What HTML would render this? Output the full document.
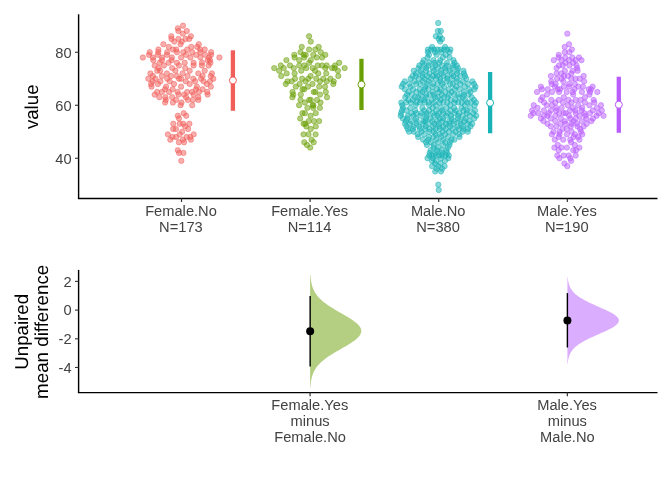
<!DOCTYPE html>
<html lang="en"><head><meta charset="utf-8"><title>Estimation plot</title>
<style>html,body{margin:0;padding:0;background:#fff}svg{display:block}text{font-family:"Liberation Sans", Arial, Helvetica, sans-serif}</style>
</head><body>
<svg width="672" height="480" viewBox="0 0 672 480">
<rect width="672" height="480" fill="#fff"/>
<g fill="#F15E5A" fill-opacity="0.5" stroke="#F15E5A" stroke-opacity="0.5" stroke-width="0.945">
<circle cx="183" cy="25.7" r="2.68"/>
<circle cx="177.8" cy="28.35" r="2.68"/>
<circle cx="178.4" cy="31" r="2.68"/>
<circle cx="186.75" cy="31" r="2.68"/>
<circle cx="182.8" cy="33.65" r="2.68"/>
<circle cx="171.3" cy="36.3" r="2.68"/>
<circle cx="190.9" cy="36.3" r="2.68"/>
<circle cx="171.5" cy="38.95" r="2.68"/>
<circle cx="178.4" cy="38.95" r="2.68"/>
<circle cx="185.5" cy="38.95" r="2.68"/>
<circle cx="189.25" cy="38.95" r="2.68"/>
<circle cx="174.25" cy="41.6" r="2.68"/>
<circle cx="181.75" cy="41.6" r="2.68"/>
<circle cx="163.4" cy="44.25" r="2.68"/>
<circle cx="180.5" cy="44.25" r="2.68"/>
<circle cx="198.8" cy="44.25" r="2.68"/>
<circle cx="168.8" cy="46.9" r="2.68"/>
<circle cx="191.3" cy="46.9" r="2.68"/>
<circle cx="197.2" cy="46.9" r="2.68"/>
<circle cx="158.4" cy="49.55" r="2.68"/>
<circle cx="173" cy="49.55" r="2.68"/>
<circle cx="176.3" cy="49.55" r="2.68"/>
<circle cx="187.2" cy="49.55" r="2.68"/>
<circle cx="200.1" cy="49.55" r="2.68"/>
<circle cx="204.7" cy="49.55" r="2.68"/>
<circle cx="183.7" cy="113.15" r="2.68"/>
<circle cx="177.8" cy="115.8" r="2.68"/>
<circle cx="186.2" cy="115.8" r="2.68"/>
<circle cx="179" cy="118.45" r="2.68"/>
<circle cx="173.3" cy="123.75" r="2.68"/>
<circle cx="179.7" cy="123.75" r="2.68"/>
<circle cx="183.2" cy="123.75" r="2.68"/>
<circle cx="189.4" cy="123.75" r="2.68"/>
<circle cx="185.1" cy="126.4" r="2.68"/>
<circle cx="173.1" cy="129.05" r="2.68"/>
<circle cx="175.9" cy="129.05" r="2.68"/>
<circle cx="188.1" cy="129.05" r="2.68"/>
<circle cx="182.2" cy="131.7" r="2.68"/>
<circle cx="167.9" cy="134.35" r="2.68"/>
<circle cx="179.7" cy="134.35" r="2.68"/>
<circle cx="193.75" cy="134.35" r="2.68"/>
<circle cx="172.5" cy="137" r="2.68"/>
<circle cx="176.1" cy="137" r="2.68"/>
<circle cx="186.6" cy="137" r="2.68"/>
<circle cx="190.3" cy="137" r="2.68"/>
<circle cx="170.3" cy="139.65" r="2.68"/>
<circle cx="182.8" cy="139.65" r="2.68"/>
<circle cx="190.9" cy="139.65" r="2.68"/>
<circle cx="178.9" cy="142.3" r="2.68"/>
<circle cx="184.1" cy="142.3" r="2.68"/>
<circle cx="177.8" cy="150.25" r="2.68"/>
<circle cx="179.1" cy="152.9" r="2.68"/>
<circle cx="183.4" cy="152.9" r="2.68"/>
<circle cx="181.3" cy="160.85" r="2.68"/>
<circle cx="149.7" cy="52.2" r="2.68"/>
<circle cx="158.3" cy="52.2" r="2.68"/>
<circle cx="167.2" cy="52.2" r="2.68"/>
<circle cx="176.9" cy="52.2" r="2.68"/>
<circle cx="183.3" cy="52.2" r="2.68"/>
<circle cx="192.2" cy="52.2" r="2.68"/>
<circle cx="200.4" cy="52.2" r="2.68"/>
<circle cx="211.1" cy="52.2" r="2.68"/>
<circle cx="149" cy="54.85" r="2.68"/>
<circle cx="157.9" cy="54.85" r="2.68"/>
<circle cx="166.9" cy="54.85" r="2.68"/>
<circle cx="186.1" cy="54.85" r="2.68"/>
<circle cx="196.1" cy="54.85" r="2.68"/>
<circle cx="205.1" cy="54.85" r="2.68"/>
<circle cx="211.1" cy="54.85" r="2.68"/>
<circle cx="142.9" cy="57.5" r="2.68"/>
<circle cx="152.9" cy="57.5" r="2.68"/>
<circle cx="162.2" cy="57.5" r="2.68"/>
<circle cx="171.9" cy="57.5" r="2.68"/>
<circle cx="181.1" cy="57.5" r="2.68"/>
<circle cx="190.4" cy="57.5" r="2.68"/>
<circle cx="200.4" cy="57.5" r="2.68"/>
<circle cx="209" cy="57.5" r="2.68"/>
<circle cx="219.4" cy="57.5" r="2.68"/>
<circle cx="153.3" cy="60.15" r="2.68"/>
<circle cx="161.9" cy="60.15" r="2.68"/>
<circle cx="171.5" cy="60.15" r="2.68"/>
<circle cx="207.6" cy="60.15" r="2.68"/>
<circle cx="209.9" cy="60.15" r="2.68"/>
<circle cx="159.7" cy="62.8" r="2.68"/>
<circle cx="168.6" cy="62.8" r="2.68"/>
<circle cx="176.9" cy="62.8" r="2.68"/>
<circle cx="184.7" cy="62.8" r="2.68"/>
<circle cx="193.6" cy="62.8" r="2.68"/>
<circle cx="201.9" cy="62.8" r="2.68"/>
<circle cx="210.4" cy="62.8" r="2.68"/>
<circle cx="154.7" cy="65.45" r="2.68"/>
<circle cx="164" cy="65.45" r="2.68"/>
<circle cx="179" cy="65.45" r="2.68"/>
<circle cx="193.6" cy="65.45" r="2.68"/>
<circle cx="201.9" cy="65.45" r="2.68"/>
<circle cx="208.6" cy="65.45" r="2.68"/>
<circle cx="158.5" cy="68.1" r="2.68"/>
<circle cx="172.2" cy="68.1" r="2.68"/>
<circle cx="185.2" cy="68.1" r="2.68"/>
<circle cx="157.2" cy="70.75" r="2.68"/>
<circle cx="160.1" cy="70.75" r="2.68"/>
<circle cx="175.4" cy="70.75" r="2.68"/>
<circle cx="189.7" cy="70.75" r="2.68"/>
<circle cx="204.7" cy="70.75" r="2.68"/>
<circle cx="150.4" cy="73.4" r="2.68"/>
<circle cx="166.9" cy="73.4" r="2.68"/>
<circle cx="182.6" cy="73.4" r="2.68"/>
<circle cx="198.3" cy="73.4" r="2.68"/>
<circle cx="211.9" cy="73.4" r="2.68"/>
<circle cx="152.9" cy="76.05" r="2.68"/>
<circle cx="161.9" cy="76.05" r="2.68"/>
<circle cx="171.1" cy="76.05" r="2.68"/>
<circle cx="176.9" cy="76.05" r="2.68"/>
<circle cx="187.6" cy="76.05" r="2.68"/>
<circle cx="202.6" cy="76.05" r="2.68"/>
<circle cx="210.8" cy="76.05" r="2.68"/>
<circle cx="148.3" cy="78.7" r="2.68"/>
<circle cx="155.4" cy="78.7" r="2.68"/>
<circle cx="167.2" cy="78.7" r="2.68"/>
<circle cx="179" cy="78.7" r="2.68"/>
<circle cx="181.1" cy="78.7" r="2.68"/>
<circle cx="193.3" cy="78.7" r="2.68"/>
<circle cx="201.1" cy="78.7" r="2.68"/>
<circle cx="213.3" cy="78.7" r="2.68"/>
<circle cx="152.6" cy="81.35" r="2.68"/>
<circle cx="160.4" cy="81.35" r="2.68"/>
<circle cx="169.7" cy="81.35" r="2.68"/>
<circle cx="185.8" cy="81.35" r="2.68"/>
<circle cx="195.1" cy="81.35" r="2.68"/>
<circle cx="203.6" cy="81.35" r="2.68"/>
<circle cx="210" cy="81.35" r="2.68"/>
<circle cx="151.1" cy="84" r="2.68"/>
<circle cx="157.9" cy="84" r="2.68"/>
<circle cx="174" cy="84" r="2.68"/>
<circle cx="189.7" cy="84" r="2.68"/>
<circle cx="206.9" cy="84" r="2.68"/>
<circle cx="151.5" cy="86.65" r="2.68"/>
<circle cx="166.1" cy="86.65" r="2.68"/>
<circle cx="181.1" cy="86.65" r="2.68"/>
<circle cx="196.9" cy="86.65" r="2.68"/>
<circle cx="210.8" cy="86.65" r="2.68"/>
<circle cx="165" cy="89.3" r="2.68"/>
<circle cx="172.6" cy="89.3" r="2.68"/>
<circle cx="196" cy="89.3" r="2.68"/>
<circle cx="202.6" cy="89.3" r="2.68"/>
<circle cx="157.2" cy="91.95" r="2.68"/>
<circle cx="161.9" cy="91.95" r="2.68"/>
<circle cx="169" cy="91.95" r="2.68"/>
<circle cx="177.6" cy="91.95" r="2.68"/>
<circle cx="187.2" cy="91.95" r="2.68"/>
<circle cx="192.2" cy="91.95" r="2.68"/>
<circle cx="199" cy="91.95" r="2.68"/>
<circle cx="207.2" cy="91.95" r="2.68"/>
<circle cx="154.7" cy="94.6" r="2.68"/>
<circle cx="178.5" cy="94.6" r="2.68"/>
<circle cx="184" cy="94.6" r="2.68"/>
<circle cx="193.6" cy="94.6" r="2.68"/>
<circle cx="207.6" cy="94.6" r="2.68"/>
<circle cx="159.4" cy="97.25" r="2.68"/>
<circle cx="165.4" cy="97.25" r="2.68"/>
<circle cx="172.2" cy="97.25" r="2.68"/>
<circle cx="186.1" cy="97.25" r="2.68"/>
<circle cx="198.3" cy="97.25" r="2.68"/>
<circle cx="165.8" cy="99.9" r="2.68"/>
<circle cx="176.1" cy="99.9" r="2.68"/>
<circle cx="187.9" cy="99.9" r="2.68"/>
<circle cx="192.9" cy="99.9" r="2.68"/>
<circle cx="198.3" cy="99.9" r="2.68"/>
<circle cx="165.1" cy="102.55" r="2.68"/>
<circle cx="172.9" cy="102.55" r="2.68"/>
<circle cx="181.5" cy="102.55" r="2.68"/>
<circle cx="180.6" cy="105.2" r="2.68"/>
<circle cx="192.2" cy="105.2" r="2.68"/>
</g>
<g fill="#6AA005" fill-opacity="0.5" stroke="#6AA005" stroke-opacity="0.5" stroke-width="0.945">
<circle cx="309.1" cy="36.3" r="2.68"/>
<circle cx="310.75" cy="41.6" r="2.68"/>
<circle cx="301.75" cy="46.9" r="2.68"/>
<circle cx="318.7" cy="46.9" r="2.68"/>
<circle cx="309.1" cy="49.55" r="2.68"/>
<circle cx="315.3" cy="49.55" r="2.68"/>
<circle cx="300.5" cy="52.2" r="2.68"/>
<circle cx="320.75" cy="52.2" r="2.68"/>
<circle cx="294.3" cy="54.85" r="2.68"/>
<circle cx="303.7" cy="54.85" r="2.68"/>
<circle cx="305.75" cy="54.85" r="2.68"/>
<circle cx="313.25" cy="54.85" r="2.68"/>
<circle cx="325.3" cy="54.85" r="2.68"/>
<circle cx="294.6" cy="57.5" r="2.68"/>
<circle cx="304.2" cy="57.5" r="2.68"/>
<circle cx="316.7" cy="57.5" r="2.68"/>
<circle cx="322.1" cy="57.5" r="2.68"/>
<circle cx="286.4" cy="60.15" r="2.68"/>
<circle cx="299.2" cy="60.15" r="2.68"/>
<circle cx="310.8" cy="60.15" r="2.68"/>
<circle cx="309.2" cy="62.8" r="2.68"/>
<circle cx="339.2" cy="62.8" r="2.68"/>
<circle cx="280.8" cy="65.45" r="2.68"/>
<circle cx="290" cy="65.45" r="2.68"/>
<circle cx="299.2" cy="65.45" r="2.68"/>
<circle cx="304.2" cy="65.45" r="2.68"/>
<circle cx="317.7" cy="65.45" r="2.68"/>
<circle cx="322.1" cy="65.45" r="2.68"/>
<circle cx="326.7" cy="65.45" r="2.68"/>
<circle cx="335" cy="65.45" r="2.68"/>
<circle cx="274.2" cy="68.1" r="2.68"/>
<circle cx="283.75" cy="68.1" r="2.68"/>
<circle cx="293.75" cy="68.1" r="2.68"/>
<circle cx="306.25" cy="68.1" r="2.68"/>
<circle cx="312.7" cy="68.1" r="2.68"/>
<circle cx="325.4" cy="68.1" r="2.68"/>
<circle cx="332.1" cy="68.1" r="2.68"/>
<circle cx="334.6" cy="68.1" r="2.68"/>
<circle cx="344.6" cy="68.1" r="2.68"/>
<circle cx="279.2" cy="70.75" r="2.68"/>
<circle cx="301.25" cy="70.75" r="2.68"/>
<circle cx="315" cy="70.75" r="2.68"/>
<circle cx="337.9" cy="70.75" r="2.68"/>
<circle cx="286.7" cy="73.4" r="2.68"/>
<circle cx="294.6" cy="73.4" r="2.68"/>
<circle cx="318.3" cy="73.4" r="2.68"/>
<circle cx="326.25" cy="73.4" r="2.68"/>
<circle cx="281.25" cy="76.05" r="2.68"/>
<circle cx="310.6" cy="76.05" r="2.68"/>
<circle cx="338.3" cy="76.05" r="2.68"/>
<circle cx="295" cy="78.7" r="2.68"/>
<circle cx="302.1" cy="78.7" r="2.68"/>
<circle cx="308.3" cy="78.7" r="2.68"/>
<circle cx="316.25" cy="78.7" r="2.68"/>
<circle cx="323.3" cy="78.7" r="2.68"/>
<circle cx="330.4" cy="78.7" r="2.68"/>
<circle cx="287.5" cy="81.35" r="2.68"/>
<circle cx="291.7" cy="81.35" r="2.68"/>
<circle cx="305.6" cy="81.35" r="2.68"/>
<circle cx="320" cy="81.35" r="2.68"/>
<circle cx="326.7" cy="81.35" r="2.68"/>
<circle cx="333.75" cy="81.35" r="2.68"/>
<circle cx="285.8" cy="84" r="2.68"/>
<circle cx="299.6" cy="84" r="2.68"/>
<circle cx="312.5" cy="84" r="2.68"/>
<circle cx="333.3" cy="84" r="2.68"/>
<circle cx="295.8" cy="86.65" r="2.68"/>
<circle cx="307.9" cy="86.65" r="2.68"/>
<circle cx="319.2" cy="86.65" r="2.68"/>
<circle cx="325" cy="86.65" r="2.68"/>
<circle cx="302.5" cy="89.3" r="2.68"/>
<circle cx="304.2" cy="89.3" r="2.68"/>
<circle cx="292.5" cy="91.95" r="2.68"/>
<circle cx="313.75" cy="91.95" r="2.68"/>
<circle cx="315.4" cy="91.95" r="2.68"/>
<circle cx="325.8" cy="91.95" r="2.68"/>
<circle cx="293.3" cy="94.6" r="2.68"/>
<circle cx="300.8" cy="94.6" r="2.68"/>
<circle cx="320" cy="94.6" r="2.68"/>
<circle cx="292.4" cy="97.25" r="2.68"/>
<circle cx="327" cy="97.25" r="2.68"/>
<circle cx="300.5" cy="99.9" r="2.68"/>
<circle cx="309.2" cy="99.9" r="2.68"/>
<circle cx="310.8" cy="99.9" r="2.68"/>
<circle cx="317" cy="99.9" r="2.68"/>
<circle cx="304.9" cy="102.55" r="2.68"/>
<circle cx="320.5" cy="102.55" r="2.68"/>
<circle cx="299.1" cy="105.2" r="2.68"/>
<circle cx="312.7" cy="105.2" r="2.68"/>
<circle cx="313.3" cy="105.2" r="2.68"/>
<circle cx="307.4" cy="107.85" r="2.68"/>
<circle cx="313.2" cy="107.85" r="2.68"/>
<circle cx="319.9" cy="107.85" r="2.68"/>
<circle cx="302.4" cy="113.15" r="2.68"/>
<circle cx="304.9" cy="113.15" r="2.68"/>
<circle cx="315.75" cy="113.15" r="2.68"/>
<circle cx="310.6" cy="115.8" r="2.68"/>
<circle cx="300.2" cy="118.45" r="2.68"/>
<circle cx="308.7" cy="121.1" r="2.68"/>
<circle cx="313.9" cy="121.1" r="2.68"/>
<circle cx="319.1" cy="121.1" r="2.68"/>
<circle cx="303.6" cy="123.75" r="2.68"/>
<circle cx="305.3" cy="123.75" r="2.68"/>
<circle cx="306.4" cy="126.4" r="2.68"/>
<circle cx="315.75" cy="126.4" r="2.68"/>
<circle cx="310.75" cy="129.05" r="2.68"/>
<circle cx="303.5" cy="134.35" r="2.68"/>
<circle cx="308.5" cy="134.35" r="2.68"/>
<circle cx="315.6" cy="134.35" r="2.68"/>
<circle cx="311.6" cy="139.65" r="2.68"/>
<circle cx="304.3" cy="142.3" r="2.68"/>
<circle cx="313.7" cy="142.3" r="2.68"/>
<circle cx="307" cy="144.95" r="2.68"/>
<circle cx="310.2" cy="147.6" r="2.68"/>
</g>
<g fill="#16B2B6" fill-opacity="0.5" stroke="#16B2B6" stroke-opacity="0.5" stroke-width="0.945">
<circle cx="427.8" cy="52.2" r="2.68"/>
<circle cx="435.1" cy="52.2" r="2.68"/>
<circle cx="441.51" cy="52.2" r="2.68"/>
<circle cx="449.5" cy="52.2" r="2.68"/>
<circle cx="429" cy="54.85" r="2.68"/>
<circle cx="436.58" cy="54.85" r="2.68"/>
<circle cx="445.79" cy="54.85" r="2.68"/>
<circle cx="427.5" cy="57.5" r="2.68"/>
<circle cx="442.9" cy="57.5" r="2.68"/>
<circle cx="449.5" cy="57.5" r="2.68"/>
<circle cx="423.74" cy="60.15" r="2.68"/>
<circle cx="433.37" cy="60.15" r="2.68"/>
<circle cx="440.3" cy="60.15" r="2.68"/>
<circle cx="453.4" cy="60.15" r="2.68"/>
<circle cx="422.5" cy="62.8" r="2.68"/>
<circle cx="429.13" cy="62.8" r="2.68"/>
<circle cx="434.6" cy="62.8" r="2.68"/>
<circle cx="439.31" cy="62.8" r="2.68"/>
<circle cx="446.96" cy="62.8" r="2.68"/>
<circle cx="454.5" cy="62.8" r="2.68"/>
<circle cx="419.4" cy="65.45" r="2.68"/>
<circle cx="423.89" cy="65.45" r="2.68"/>
<circle cx="428.65" cy="65.45" r="2.68"/>
<circle cx="435.53" cy="65.45" r="2.68"/>
<circle cx="442.13" cy="65.45" r="2.68"/>
<circle cx="446.86" cy="65.45" r="2.68"/>
<circle cx="452.87" cy="65.45" r="2.68"/>
<circle cx="456.77" cy="65.45" r="2.68"/>
<circle cx="418.5" cy="68.1" r="2.68"/>
<circle cx="426.1" cy="68.1" r="2.68"/>
<circle cx="432.64" cy="68.1" r="2.68"/>
<circle cx="437.92" cy="68.1" r="2.68"/>
<circle cx="445.13" cy="68.1" r="2.68"/>
<circle cx="452.24" cy="68.1" r="2.68"/>
<circle cx="457.99" cy="68.1" r="2.68"/>
<circle cx="413.78" cy="70.75" r="2.68"/>
<circle cx="420.81" cy="70.75" r="2.68"/>
<circle cx="426.12" cy="70.75" r="2.68"/>
<circle cx="433.78" cy="70.75" r="2.68"/>
<circle cx="440.99" cy="70.75" r="2.68"/>
<circle cx="446.02" cy="70.75" r="2.68"/>
<circle cx="449.65" cy="70.75" r="2.68"/>
<circle cx="457.3" cy="70.75" r="2.68"/>
<circle cx="463.4" cy="70.75" r="2.68"/>
<circle cx="416.26" cy="73.4" r="2.68"/>
<circle cx="422.01" cy="73.4" r="2.68"/>
<circle cx="429.4" cy="73.4" r="2.68"/>
<circle cx="435.92" cy="73.4" r="2.68"/>
<circle cx="441.38" cy="73.4" r="2.68"/>
<circle cx="451.97" cy="73.4" r="2.68"/>
<circle cx="457.06" cy="73.4" r="2.68"/>
<circle cx="464" cy="73.4" r="2.68"/>
<circle cx="412.46" cy="76.05" r="2.68"/>
<circle cx="415.89" cy="76.05" r="2.68"/>
<circle cx="422.42" cy="76.05" r="2.68"/>
<circle cx="427.15" cy="76.05" r="2.68"/>
<circle cx="432.89" cy="76.05" r="2.68"/>
<circle cx="437.37" cy="76.05" r="2.68"/>
<circle cx="443.4" cy="76.05" r="2.68"/>
<circle cx="447.29" cy="76.05" r="2.68"/>
<circle cx="453.39" cy="76.05" r="2.68"/>
<circle cx="460.29" cy="76.05" r="2.68"/>
<circle cx="465.1" cy="76.05" r="2.68"/>
<circle cx="410.61" cy="78.7" r="2.68"/>
<circle cx="418.92" cy="78.7" r="2.68"/>
<circle cx="424.72" cy="78.7" r="2.68"/>
<circle cx="431.07" cy="78.7" r="2.68"/>
<circle cx="435.97" cy="78.7" r="2.68"/>
<circle cx="440.37" cy="78.7" r="2.68"/>
<circle cx="447.31" cy="78.7" r="2.68"/>
<circle cx="451.92" cy="78.7" r="2.68"/>
<circle cx="456.86" cy="78.7" r="2.68"/>
<circle cx="466.23" cy="78.7" r="2.68"/>
<circle cx="404.79" cy="81.35" r="2.68"/>
<circle cx="414.43" cy="81.35" r="2.68"/>
<circle cx="422.66" cy="81.35" r="2.68"/>
<circle cx="428.67" cy="81.35" r="2.68"/>
<circle cx="440.75" cy="81.35" r="2.68"/>
<circle cx="446.62" cy="81.35" r="2.68"/>
<circle cx="456.91" cy="81.35" r="2.68"/>
<circle cx="462.82" cy="81.35" r="2.68"/>
<circle cx="472.36" cy="81.35" r="2.68"/>
<circle cx="403" cy="84" r="2.68"/>
<circle cx="409.17" cy="84" r="2.68"/>
<circle cx="416.13" cy="84" r="2.68"/>
<circle cx="420.16" cy="84" r="2.68"/>
<circle cx="427.15" cy="84" r="2.68"/>
<circle cx="433.25" cy="84" r="2.68"/>
<circle cx="437.57" cy="84" r="2.68"/>
<circle cx="442.26" cy="84" r="2.68"/>
<circle cx="450.14" cy="84" r="2.68"/>
<circle cx="452.69" cy="84" r="2.68"/>
<circle cx="460.29" cy="84" r="2.68"/>
<circle cx="467.95" cy="84" r="2.68"/>
<circle cx="474" cy="84" r="2.68"/>
<circle cx="401.7" cy="86.65" r="2.68"/>
<circle cx="410.52" cy="86.65" r="2.68"/>
<circle cx="425.29" cy="86.65" r="2.68"/>
<circle cx="432.48" cy="86.65" r="2.68"/>
<circle cx="444.14" cy="86.65" r="2.68"/>
<circle cx="456.11" cy="86.65" r="2.68"/>
<circle cx="464.81" cy="86.65" r="2.68"/>
<circle cx="475.5" cy="86.65" r="2.68"/>
<circle cx="404.84" cy="89.3" r="2.68"/>
<circle cx="413.17" cy="89.3" r="2.68"/>
<circle cx="419.59" cy="89.3" r="2.68"/>
<circle cx="424.53" cy="89.3" r="2.68"/>
<circle cx="428.23" cy="89.3" r="2.68"/>
<circle cx="437.11" cy="89.3" r="2.68"/>
<circle cx="440.56" cy="89.3" r="2.68"/>
<circle cx="448.98" cy="89.3" r="2.68"/>
<circle cx="454.75" cy="89.3" r="2.68"/>
<circle cx="459.68" cy="89.3" r="2.68"/>
<circle cx="469.23" cy="89.3" r="2.68"/>
<circle cx="474.48" cy="89.3" r="2.68"/>
<circle cx="408.53" cy="91.95" r="2.68"/>
<circle cx="416.45" cy="91.95" r="2.68"/>
<circle cx="422.34" cy="91.95" r="2.68"/>
<circle cx="432.78" cy="91.95" r="2.68"/>
<circle cx="439.27" cy="91.95" r="2.68"/>
<circle cx="445.19" cy="91.95" r="2.68"/>
<circle cx="451.58" cy="91.95" r="2.68"/>
<circle cx="463.88" cy="91.95" r="2.68"/>
<circle cx="470.5" cy="91.95" r="2.68"/>
<circle cx="406.9" cy="94.6" r="2.68"/>
<circle cx="411.67" cy="94.6" r="2.68"/>
<circle cx="420.67" cy="94.6" r="2.68"/>
<circle cx="426.31" cy="94.6" r="2.68"/>
<circle cx="429.71" cy="94.6" r="2.68"/>
<circle cx="434" cy="94.6" r="2.68"/>
<circle cx="441.87" cy="94.6" r="2.68"/>
<circle cx="449" cy="94.6" r="2.68"/>
<circle cx="454.2" cy="94.6" r="2.68"/>
<circle cx="458.01" cy="94.6" r="2.68"/>
<circle cx="463.84" cy="94.6" r="2.68"/>
<circle cx="468.58" cy="94.6" r="2.68"/>
<circle cx="405.25" cy="97.25" r="2.68"/>
<circle cx="415.09" cy="97.25" r="2.68"/>
<circle cx="418.18" cy="97.25" r="2.68"/>
<circle cx="425.93" cy="97.25" r="2.68"/>
<circle cx="435.1" cy="97.25" r="2.68"/>
<circle cx="437.76" cy="97.25" r="2.68"/>
<circle cx="443.97" cy="97.25" r="2.68"/>
<circle cx="447.6" cy="97.25" r="2.68"/>
<circle cx="459.39" cy="97.25" r="2.68"/>
<circle cx="462.88" cy="97.25" r="2.68"/>
<circle cx="471.75" cy="97.25" r="2.68"/>
<circle cx="408.41" cy="99.9" r="2.68"/>
<circle cx="412.93" cy="99.9" r="2.68"/>
<circle cx="420.7" cy="99.9" r="2.68"/>
<circle cx="424.38" cy="99.9" r="2.68"/>
<circle cx="431.8" cy="99.9" r="2.68"/>
<circle cx="440.53" cy="99.9" r="2.68"/>
<circle cx="450.73" cy="99.9" r="2.68"/>
<circle cx="455.31" cy="99.9" r="2.68"/>
<circle cx="465.21" cy="99.9" r="2.68"/>
<circle cx="474" cy="99.9" r="2.68"/>
<circle cx="401.3" cy="102.55" r="2.68"/>
<circle cx="406.17" cy="102.55" r="2.68"/>
<circle cx="410.78" cy="102.55" r="2.68"/>
<circle cx="416.44" cy="102.55" r="2.68"/>
<circle cx="420.03" cy="102.55" r="2.68"/>
<circle cx="424.65" cy="102.55" r="2.68"/>
<circle cx="428.72" cy="102.55" r="2.68"/>
<circle cx="434.13" cy="102.55" r="2.68"/>
<circle cx="439.57" cy="102.55" r="2.68"/>
<circle cx="443.39" cy="102.55" r="2.68"/>
<circle cx="447.35" cy="102.55" r="2.68"/>
<circle cx="454.55" cy="102.55" r="2.68"/>
<circle cx="458.26" cy="102.55" r="2.68"/>
<circle cx="461.83" cy="102.55" r="2.68"/>
<circle cx="467.31" cy="102.55" r="2.68"/>
<circle cx="470.8" cy="102.55" r="2.68"/>
<circle cx="476" cy="102.55" r="2.68"/>
<circle cx="402.3" cy="105.2" r="2.68"/>
<circle cx="415.63" cy="105.2" r="2.68"/>
<circle cx="429.14" cy="105.2" r="2.68"/>
<circle cx="435.85" cy="105.2" r="2.68"/>
<circle cx="450.32" cy="105.2" r="2.68"/>
<circle cx="464.88" cy="105.2" r="2.68"/>
<circle cx="474.7" cy="105.2" r="2.68"/>
<circle cx="403" cy="107.85" r="2.68"/>
<circle cx="410.31" cy="107.85" r="2.68"/>
<circle cx="422.33" cy="107.85" r="2.68"/>
<circle cx="432.67" cy="107.85" r="2.68"/>
<circle cx="441.02" cy="107.85" r="2.68"/>
<circle cx="446.5" cy="107.85" r="2.68"/>
<circle cx="454.13" cy="107.85" r="2.68"/>
<circle cx="461.47" cy="107.85" r="2.68"/>
<circle cx="470.18" cy="107.85" r="2.68"/>
<circle cx="401.9" cy="110.5" r="2.68"/>
<circle cx="406.43" cy="110.5" r="2.68"/>
<circle cx="415.25" cy="110.5" r="2.68"/>
<circle cx="424.23" cy="110.5" r="2.68"/>
<circle cx="429.16" cy="110.5" r="2.68"/>
<circle cx="436.21" cy="110.5" r="2.68"/>
<circle cx="442.18" cy="110.5" r="2.68"/>
<circle cx="450.33" cy="110.5" r="2.68"/>
<circle cx="455.76" cy="110.5" r="2.68"/>
<circle cx="463.52" cy="110.5" r="2.68"/>
<circle cx="466.89" cy="110.5" r="2.68"/>
<circle cx="475.1" cy="110.5" r="2.68"/>
<circle cx="401.1" cy="113.15" r="2.68"/>
<circle cx="411.41" cy="113.15" r="2.68"/>
<circle cx="416.33" cy="113.15" r="2.68"/>
<circle cx="421.46" cy="113.15" r="2.68"/>
<circle cx="426.7" cy="113.15" r="2.68"/>
<circle cx="432.74" cy="113.15" r="2.68"/>
<circle cx="438.75" cy="113.15" r="2.68"/>
<circle cx="443.28" cy="113.15" r="2.68"/>
<circle cx="447.78" cy="113.15" r="2.68"/>
<circle cx="454.38" cy="113.15" r="2.68"/>
<circle cx="459.15" cy="113.15" r="2.68"/>
<circle cx="467.03" cy="113.15" r="2.68"/>
<circle cx="473.08" cy="113.15" r="2.68"/>
<circle cx="400.7" cy="115.8" r="2.68"/>
<circle cx="407.94" cy="115.8" r="2.68"/>
<circle cx="413.6" cy="115.8" r="2.68"/>
<circle cx="420.66" cy="115.8" r="2.68"/>
<circle cx="426.74" cy="115.8" r="2.68"/>
<circle cx="434.07" cy="115.8" r="2.68"/>
<circle cx="437.63" cy="115.8" r="2.68"/>
<circle cx="446.13" cy="115.8" r="2.68"/>
<circle cx="451.01" cy="115.8" r="2.68"/>
<circle cx="458.16" cy="115.8" r="2.68"/>
<circle cx="462.93" cy="115.8" r="2.68"/>
<circle cx="469.9" cy="115.8" r="2.68"/>
<circle cx="476.3" cy="115.8" r="2.68"/>
<circle cx="402.82" cy="118.45" r="2.68"/>
<circle cx="407.34" cy="118.45" r="2.68"/>
<circle cx="415.81" cy="118.45" r="2.68"/>
<circle cx="425.79" cy="118.45" r="2.68"/>
<circle cx="430.5" cy="118.45" r="2.68"/>
<circle cx="439.73" cy="118.45" r="2.68"/>
<circle cx="443.05" cy="118.45" r="2.68"/>
<circle cx="451.47" cy="118.45" r="2.68"/>
<circle cx="457.78" cy="118.45" r="2.68"/>
<circle cx="465.43" cy="118.45" r="2.68"/>
<circle cx="474.25" cy="118.45" r="2.68"/>
<circle cx="405.75" cy="121.1" r="2.68"/>
<circle cx="411.01" cy="121.1" r="2.68"/>
<circle cx="416.86" cy="121.1" r="2.68"/>
<circle cx="423.3" cy="121.1" r="2.68"/>
<circle cx="425.47" cy="121.1" r="2.68"/>
<circle cx="432.25" cy="121.1" r="2.68"/>
<circle cx="437.1" cy="121.1" r="2.68"/>
<circle cx="442.85" cy="121.1" r="2.68"/>
<circle cx="449.27" cy="121.1" r="2.68"/>
<circle cx="454.23" cy="121.1" r="2.68"/>
<circle cx="460.06" cy="121.1" r="2.68"/>
<circle cx="464.35" cy="121.1" r="2.68"/>
<circle cx="469.52" cy="121.1" r="2.68"/>
<circle cx="404.95" cy="123.75" r="2.68"/>
<circle cx="410.04" cy="123.75" r="2.68"/>
<circle cx="416.46" cy="123.75" r="2.68"/>
<circle cx="422.56" cy="123.75" r="2.68"/>
<circle cx="428.33" cy="123.75" r="2.68"/>
<circle cx="434.23" cy="123.75" r="2.68"/>
<circle cx="438.73" cy="123.75" r="2.68"/>
<circle cx="445.75" cy="123.75" r="2.68"/>
<circle cx="449.22" cy="123.75" r="2.68"/>
<circle cx="454.05" cy="123.75" r="2.68"/>
<circle cx="460.86" cy="123.75" r="2.68"/>
<circle cx="467.34" cy="123.75" r="2.68"/>
<circle cx="472.2" cy="123.75" r="2.68"/>
<circle cx="406.5" cy="126.4" r="2.68"/>
<circle cx="413.34" cy="126.4" r="2.68"/>
<circle cx="419.03" cy="126.4" r="2.68"/>
<circle cx="425.64" cy="126.4" r="2.68"/>
<circle cx="433.25" cy="126.4" r="2.68"/>
<circle cx="439.41" cy="126.4" r="2.68"/>
<circle cx="443.54" cy="126.4" r="2.68"/>
<circle cx="450.08" cy="126.4" r="2.68"/>
<circle cx="457.45" cy="126.4" r="2.68"/>
<circle cx="462.87" cy="126.4" r="2.68"/>
<circle cx="470.5" cy="126.4" r="2.68"/>
<circle cx="407.75" cy="129.05" r="2.68"/>
<circle cx="412.8" cy="129.05" r="2.68"/>
<circle cx="419.77" cy="129.05" r="2.68"/>
<circle cx="425.14" cy="129.05" r="2.68"/>
<circle cx="429.36" cy="129.05" r="2.68"/>
<circle cx="435.41" cy="129.05" r="2.68"/>
<circle cx="439.67" cy="129.05" r="2.68"/>
<circle cx="445.76" cy="129.05" r="2.68"/>
<circle cx="452.24" cy="129.05" r="2.68"/>
<circle cx="458.43" cy="129.05" r="2.68"/>
<circle cx="463.49" cy="129.05" r="2.68"/>
<circle cx="467.96" cy="129.05" r="2.68"/>
<circle cx="409" cy="131.7" r="2.68"/>
<circle cx="413.75" cy="131.7" r="2.68"/>
<circle cx="421.46" cy="131.7" r="2.68"/>
<circle cx="429.42" cy="131.7" r="2.68"/>
<circle cx="433.73" cy="131.7" r="2.68"/>
<circle cx="442.67" cy="131.7" r="2.68"/>
<circle cx="448.9" cy="131.7" r="2.68"/>
<circle cx="455.49" cy="131.7" r="2.68"/>
<circle cx="462.62" cy="131.7" r="2.68"/>
<circle cx="467.73" cy="131.7" r="2.68"/>
<circle cx="417.75" cy="134.35" r="2.68"/>
<circle cx="424.07" cy="134.35" r="2.68"/>
<circle cx="435.44" cy="134.35" r="2.68"/>
<circle cx="439.27" cy="134.35" r="2.68"/>
<circle cx="445.06" cy="134.35" r="2.68"/>
<circle cx="453.27" cy="134.35" r="2.68"/>
<circle cx="459.2" cy="134.35" r="2.68"/>
<circle cx="418.2" cy="137" r="2.68"/>
<circle cx="428.82" cy="137" r="2.68"/>
<circle cx="433.55" cy="137" r="2.68"/>
<circle cx="440.92" cy="137" r="2.68"/>
<circle cx="448.16" cy="137" r="2.68"/>
<circle cx="459.5" cy="137" r="2.68"/>
<circle cx="423.06" cy="139.65" r="2.68"/>
<circle cx="428.43" cy="139.65" r="2.68"/>
<circle cx="436.13" cy="139.65" r="2.68"/>
<circle cx="443.16" cy="139.65" r="2.68"/>
<circle cx="451.4" cy="139.65" r="2.68"/>
<circle cx="454.4" cy="139.65" r="2.68"/>
<circle cx="426" cy="142.3" r="2.68"/>
<circle cx="430.94" cy="142.3" r="2.68"/>
<circle cx="438.12" cy="142.3" r="2.68"/>
<circle cx="445.19" cy="142.3" r="2.68"/>
<circle cx="449.83" cy="142.3" r="2.68"/>
<circle cx="426.9" cy="144.95" r="2.68"/>
<circle cx="433.62" cy="144.95" r="2.68"/>
<circle cx="443.21" cy="144.95" r="2.68"/>
<circle cx="449.5" cy="144.95" r="2.68"/>
<circle cx="433.57" cy="147.6" r="2.68"/>
<circle cx="438.23" cy="147.6" r="2.68"/>
<circle cx="447.99" cy="147.6" r="2.68"/>
<circle cx="430.7" cy="150.25" r="2.68"/>
<circle cx="436.7" cy="150.25" r="2.68"/>
<circle cx="441.64" cy="150.25" r="2.68"/>
<circle cx="446.5" cy="150.25" r="2.68"/>
<circle cx="429.8" cy="152.9" r="2.68"/>
<circle cx="435.79" cy="152.9" r="2.68"/>
<circle cx="441.6" cy="152.9" r="2.68"/>
<circle cx="447" cy="152.9" r="2.68"/>
<circle cx="438.2" cy="23.05" r="2.68"/>
<circle cx="438.3" cy="184.7" r="2.68"/>
<circle cx="438.7" cy="190" r="2.68"/>
<circle cx="437.9" cy="31" r="2.68"/>
<circle cx="440.8" cy="31" r="2.68"/>
<circle cx="435.8" cy="36.3" r="2.68"/>
<circle cx="440" cy="36.3" r="2.68"/>
<circle cx="438.8" cy="38.95" r="2.68"/>
<circle cx="442.1" cy="38.95" r="2.68"/>
<circle cx="440.2" cy="41.6" r="2.68"/>
<circle cx="432.1" cy="46.9" r="2.68"/>
<circle cx="445" cy="46.9" r="2.68"/>
<circle cx="427.9" cy="49.55" r="2.68"/>
<circle cx="431.1" cy="49.55" r="2.68"/>
<circle cx="434.3" cy="49.55" r="2.68"/>
<circle cx="437.5" cy="49.55" r="2.68"/>
<circle cx="440.8" cy="49.55" r="2.68"/>
<circle cx="444" cy="49.55" r="2.68"/>
<circle cx="447.2" cy="49.55" r="2.68"/>
<circle cx="450.4" cy="49.55" r="2.68"/>
<circle cx="429.2" cy="155.55" r="2.68"/>
<circle cx="432.5" cy="155.55" r="2.68"/>
<circle cx="435.7" cy="155.55" r="2.68"/>
<circle cx="439" cy="155.55" r="2.68"/>
<circle cx="442.2" cy="155.55" r="2.68"/>
<circle cx="445.5" cy="155.55" r="2.68"/>
<circle cx="448.75" cy="155.55" r="2.68"/>
<circle cx="427.5" cy="158.2" r="2.68"/>
<circle cx="433" cy="158.2" r="2.68"/>
<circle cx="441" cy="158.2" r="2.68"/>
<circle cx="448.3" cy="158.2" r="2.68"/>
<circle cx="432.1" cy="160.85" r="2.68"/>
<circle cx="436" cy="160.85" r="2.68"/>
<circle cx="445" cy="160.85" r="2.68"/>
<circle cx="435" cy="163.5" r="2.68"/>
<circle cx="440.5" cy="163.5" r="2.68"/>
<circle cx="432.1" cy="166.15" r="2.68"/>
<circle cx="438.3" cy="166.15" r="2.68"/>
<circle cx="444.6" cy="166.15" r="2.68"/>
<circle cx="436.7" cy="168.8" r="2.68"/>
<circle cx="442.1" cy="168.8" r="2.68"/>
<circle cx="435.2" cy="171.45" r="2.68"/>
<circle cx="441" cy="171.45" r="2.68"/>
</g>
<g fill="#B85CFF" fill-opacity="0.5" stroke="#B85CFF" stroke-opacity="0.5" stroke-width="0.945">
<circle cx="540.8" cy="99.9" r="2.68"/>
<circle cx="551.33" cy="99.9" r="2.68"/>
<circle cx="558.8" cy="99.9" r="2.68"/>
<circle cx="568.45" cy="99.9" r="2.68"/>
<circle cx="575.67" cy="99.9" r="2.68"/>
<circle cx="580.62" cy="99.9" r="2.68"/>
<circle cx="593.6" cy="99.9" r="2.68"/>
<circle cx="544.11" cy="102.55" r="2.68"/>
<circle cx="555.31" cy="102.55" r="2.68"/>
<circle cx="562.99" cy="102.55" r="2.68"/>
<circle cx="571.47" cy="102.55" r="2.68"/>
<circle cx="584.77" cy="102.55" r="2.68"/>
<circle cx="594.4" cy="102.55" r="2.68"/>
<circle cx="533.75" cy="105.2" r="2.68"/>
<circle cx="546.82" cy="105.2" r="2.68"/>
<circle cx="551.88" cy="105.2" r="2.68"/>
<circle cx="567.73" cy="105.2" r="2.68"/>
<circle cx="578.15" cy="105.2" r="2.68"/>
<circle cx="589.47" cy="105.2" r="2.68"/>
<circle cx="601" cy="105.2" r="2.68"/>
<circle cx="537.5" cy="107.85" r="2.68"/>
<circle cx="556.29" cy="107.85" r="2.68"/>
<circle cx="561.69" cy="107.85" r="2.68"/>
<circle cx="572.81" cy="107.85" r="2.68"/>
<circle cx="582.19" cy="107.85" r="2.68"/>
<circle cx="596.9" cy="107.85" r="2.68"/>
<circle cx="532.1" cy="110.5" r="2.68"/>
<circle cx="543.91" cy="110.5" r="2.68"/>
<circle cx="550.91" cy="110.5" r="2.68"/>
<circle cx="556.3" cy="110.5" r="2.68"/>
<circle cx="570" cy="110.5" r="2.68"/>
<circle cx="575.51" cy="110.5" r="2.68"/>
<circle cx="581.66" cy="110.5" r="2.68"/>
<circle cx="592.82" cy="110.5" r="2.68"/>
<circle cx="601.8" cy="110.5" r="2.68"/>
<circle cx="533.5" cy="113.15" r="2.68"/>
<circle cx="538.35" cy="113.15" r="2.68"/>
<circle cx="548.91" cy="113.15" r="2.68"/>
<circle cx="559.19" cy="113.15" r="2.68"/>
<circle cx="563.56" cy="113.15" r="2.68"/>
<circle cx="565.64" cy="113.15" r="2.68"/>
<circle cx="575.73" cy="113.15" r="2.68"/>
<circle cx="584.4" cy="113.15" r="2.68"/>
<circle cx="589.91" cy="113.15" r="2.68"/>
<circle cx="598.56" cy="113.15" r="2.68"/>
<circle cx="530.8" cy="115.8" r="2.68"/>
<circle cx="544.02" cy="115.8" r="2.68"/>
<circle cx="547.33" cy="115.8" r="2.68"/>
<circle cx="555.41" cy="115.8" r="2.68"/>
<circle cx="569.01" cy="115.8" r="2.68"/>
<circle cx="579.41" cy="115.8" r="2.68"/>
<circle cx="585.17" cy="115.8" r="2.68"/>
<circle cx="596.64" cy="115.8" r="2.68"/>
<circle cx="603.5" cy="115.8" r="2.68"/>
<circle cx="540.86" cy="118.45" r="2.68"/>
<circle cx="550.65" cy="118.45" r="2.68"/>
<circle cx="560.88" cy="118.45" r="2.68"/>
<circle cx="570.35" cy="118.45" r="2.68"/>
<circle cx="575.75" cy="118.45" r="2.68"/>
<circle cx="586.39" cy="118.45" r="2.68"/>
<circle cx="593.05" cy="118.45" r="2.68"/>
<circle cx="543.49" cy="121.1" r="2.68"/>
<circle cx="555.21" cy="121.1" r="2.68"/>
<circle cx="564.84" cy="121.1" r="2.68"/>
<circle cx="573.53" cy="121.1" r="2.68"/>
<circle cx="581.72" cy="121.1" r="2.68"/>
<circle cx="591.31" cy="121.1" r="2.68"/>
<circle cx="547.45" cy="123.75" r="2.68"/>
<circle cx="560.44" cy="123.75" r="2.68"/>
<circle cx="565.44" cy="123.75" r="2.68"/>
<circle cx="571.33" cy="123.75" r="2.68"/>
<circle cx="576.81" cy="123.75" r="2.68"/>
<circle cx="586.68" cy="123.75" r="2.68"/>
<circle cx="550.8" cy="126.4" r="2.68"/>
<circle cx="556.37" cy="126.4" r="2.68"/>
<circle cx="570.78" cy="126.4" r="2.68"/>
<circle cx="577.48" cy="126.4" r="2.68"/>
<circle cx="583.6" cy="126.4" r="2.68"/>
<circle cx="562.51" cy="129.05" r="2.68"/>
<circle cx="566.77" cy="129.05" r="2.68"/>
<circle cx="580.2" cy="129.05" r="2.68"/>
<circle cx="553.5" cy="131.7" r="2.68"/>
<circle cx="559.59" cy="131.7" r="2.68"/>
<circle cx="571.67" cy="131.7" r="2.68"/>
<circle cx="581" cy="131.7" r="2.68"/>
<circle cx="567.3" cy="33.65" r="2.68"/>
<circle cx="569" cy="44.25" r="2.68"/>
<circle cx="564.7" cy="46.9" r="2.68"/>
<circle cx="571.9" cy="49.55" r="2.68"/>
<circle cx="564.8" cy="52.2" r="2.68"/>
<circle cx="569.4" cy="52.2" r="2.68"/>
<circle cx="558.75" cy="54.85" r="2.68"/>
<circle cx="558.6" cy="57.5" r="2.68"/>
<circle cx="565.25" cy="57.5" r="2.68"/>
<circle cx="572.3" cy="57.5" r="2.68"/>
<circle cx="579" cy="57.5" r="2.68"/>
<circle cx="553.8" cy="60.15" r="2.68"/>
<circle cx="561.5" cy="60.15" r="2.68"/>
<circle cx="569" cy="60.15" r="2.68"/>
<circle cx="575.7" cy="60.15" r="2.68"/>
<circle cx="581.5" cy="60.15" r="2.68"/>
<circle cx="565.25" cy="62.8" r="2.68"/>
<circle cx="573.2" cy="62.8" r="2.68"/>
<circle cx="559" cy="65.45" r="2.68"/>
<circle cx="562.75" cy="65.45" r="2.68"/>
<circle cx="569.4" cy="65.45" r="2.68"/>
<circle cx="576.5" cy="65.45" r="2.68"/>
<circle cx="551.9" cy="134.35" r="2.68"/>
<circle cx="559.5" cy="134.35" r="2.68"/>
<circle cx="566.9" cy="134.35" r="2.68"/>
<circle cx="575" cy="134.35" r="2.68"/>
<circle cx="582.3" cy="134.35" r="2.68"/>
<circle cx="558.6" cy="137" r="2.68"/>
<circle cx="573.6" cy="137" r="2.68"/>
<circle cx="578.2" cy="137" r="2.68"/>
<circle cx="554.8" cy="139.65" r="2.68"/>
<circle cx="563.2" cy="139.65" r="2.68"/>
<circle cx="570.25" cy="139.65" r="2.68"/>
<circle cx="579.4" cy="139.65" r="2.68"/>
<circle cx="571.1" cy="142.3" r="2.68"/>
<circle cx="557.75" cy="144.95" r="2.68"/>
<circle cx="574.8" cy="144.95" r="2.68"/>
<circle cx="554.4" cy="147.6" r="2.68"/>
<circle cx="561.5" cy="147.6" r="2.68"/>
<circle cx="566.9" cy="147.6" r="2.68"/>
<circle cx="579.4" cy="147.6" r="2.68"/>
<circle cx="558.6" cy="150.25" r="2.68"/>
<circle cx="573.2" cy="150.25" r="2.68"/>
<circle cx="576.1" cy="150.25" r="2.68"/>
<circle cx="557.3" cy="155.55" r="2.68"/>
<circle cx="563.6" cy="155.55" r="2.68"/>
<circle cx="568.6" cy="155.55" r="2.68"/>
<circle cx="575.7" cy="155.55" r="2.68"/>
<circle cx="559.4" cy="158.2" r="2.68"/>
<circle cx="570.25" cy="158.2" r="2.68"/>
<circle cx="571.1" cy="160.85" r="2.68"/>
<circle cx="564.4" cy="163.5" r="2.68"/>
<circle cx="567.3" cy="166.15" r="2.68"/>
<circle cx="556.6" cy="68.1" r="2.68"/>
<circle cx="577.2" cy="68.1" r="2.68"/>
<circle cx="564.9" cy="70.75" r="2.68"/>
<circle cx="572.7" cy="70.75" r="2.68"/>
<circle cx="577.6" cy="70.75" r="2.68"/>
<circle cx="556.6" cy="73.4" r="2.68"/>
<circle cx="561.3" cy="73.4" r="2.68"/>
<circle cx="571.4" cy="73.4" r="2.68"/>
<circle cx="550.9" cy="76.05" r="2.68"/>
<circle cx="564" cy="76.05" r="2.68"/>
<circle cx="568" cy="76.05" r="2.68"/>
<circle cx="583.7" cy="76.05" r="2.68"/>
<circle cx="557" cy="78.7" r="2.68"/>
<circle cx="561.6" cy="78.7" r="2.68"/>
<circle cx="571.3" cy="78.7" r="2.68"/>
<circle cx="575.5" cy="78.7" r="2.68"/>
<circle cx="579.8" cy="78.7" r="2.68"/>
<circle cx="551.3" cy="81.35" r="2.68"/>
<circle cx="563.4" cy="81.35" r="2.68"/>
<circle cx="584.1" cy="81.35" r="2.68"/>
<circle cx="551.6" cy="84" r="2.68"/>
<circle cx="555.6" cy="84" r="2.68"/>
<circle cx="569.1" cy="84" r="2.68"/>
<circle cx="574.8" cy="84" r="2.68"/>
<circle cx="540.9" cy="86.65" r="2.68"/>
<circle cx="554.9" cy="86.65" r="2.68"/>
<circle cx="563.8" cy="86.65" r="2.68"/>
<circle cx="569.1" cy="86.65" r="2.68"/>
<circle cx="578.4" cy="86.65" r="2.68"/>
<circle cx="583" cy="86.65" r="2.68"/>
<circle cx="592.6" cy="86.65" r="2.68"/>
<circle cx="542" cy="89.3" r="2.68"/>
<circle cx="547.7" cy="89.3" r="2.68"/>
<circle cx="557.7" cy="89.3" r="2.68"/>
<circle cx="560" cy="89.3" r="2.68"/>
<circle cx="574.4" cy="89.3" r="2.68"/>
<circle cx="588.7" cy="89.3" r="2.68"/>
<circle cx="591" cy="89.3" r="2.68"/>
<circle cx="537" cy="91.95" r="2.68"/>
<circle cx="552" cy="91.95" r="2.68"/>
<circle cx="559.1" cy="91.95" r="2.68"/>
<circle cx="566.7" cy="91.95" r="2.68"/>
<circle cx="572.7" cy="91.95" r="2.68"/>
<circle cx="581.9" cy="91.95" r="2.68"/>
<circle cx="590.1" cy="91.95" r="2.68"/>
<circle cx="597.3" cy="91.95" r="2.68"/>
<circle cx="547" cy="94.6" r="2.68"/>
<circle cx="573.2" cy="94.6" r="2.68"/>
<circle cx="589.4" cy="94.6" r="2.68"/>
<circle cx="542.4" cy="97.25" r="2.68"/>
<circle cx="563.8" cy="97.25" r="2.68"/>
<circle cx="585" cy="97.25" r="2.68"/>
</g>
<line x1="232.9" y1="50.3" x2="232.9" y2="110.8" stroke="#F15E5A" stroke-width="4.3"/>
<circle cx="232.9" cy="80.4" r="3.5" fill="#fff" stroke="#F15E5A" stroke-width="1"/>
<line x1="361.45" y1="58.8" x2="361.45" y2="110" stroke="#6AA005" stroke-width="4.3"/>
<circle cx="361.45" cy="84.5" r="3.5" fill="#fff" stroke="#6AA005" stroke-width="1"/>
<line x1="490.1" y1="72" x2="490.1" y2="133.3" stroke="#16B2B6" stroke-width="4.3"/>
<circle cx="490.1" cy="102.8" r="3.5" fill="#fff" stroke="#16B2B6" stroke-width="1"/>
<line x1="618.8" y1="76.7" x2="618.8" y2="132.8" stroke="#B85CFF" stroke-width="4.3"/>
<circle cx="618.8" cy="104.7" r="3.5" fill="#fff" stroke="#B85CFF" stroke-width="1"/>
<g stroke="#000" stroke-width="1.42" fill="none">
<path d="M78.6 14.3V198.45"/>
<path d="M77.9 198.45H657.5"/>
<path d="M75 52.25H78.6" stroke="#333" stroke-width="1.1"/>
<path d="M75 105.25H78.6" stroke="#333" stroke-width="1.1"/>
<path d="M75 158.25H78.6" stroke="#333" stroke-width="1.1"/>
<path d="M181.5 198.45V202" stroke="#333" stroke-width="1.2"/>
<path d="M310.1 198.45V202" stroke="#333" stroke-width="1.2"/>
<path d="M438.7 198.45V202" stroke="#333" stroke-width="1.2"/>
<path d="M567.35 198.45V202" stroke="#333" stroke-width="1.2"/>
<path d="M78.6 269.9V392.6"/>
<path d="M77.9 392.6H657.5"/>
<path d="M75 281.4H78.6" stroke="#333" stroke-width="1.1"/>
<path d="M75 310.1H78.6" stroke="#333" stroke-width="1.1"/>
<path d="M75 338.8H78.6" stroke="#333" stroke-width="1.1"/>
<path d="M75 367.45H78.6" stroke="#333" stroke-width="1.1"/>
<path d="M310.1 392.6V396.2" stroke="#333" stroke-width="1.2"/>
<path d="M567.35 392.6V396.2" stroke="#333" stroke-width="1.2"/>
</g>
<g font-size="14.67" fill="#424242">
<text x="71.6" y="58.1" text-anchor="end">80</text>
<text x="71.6" y="111.1" text-anchor="end">60</text>
<text x="71.6" y="164.1" text-anchor="end">40</text>
<text x="71.6" y="287" text-anchor="end">2</text>
<text x="71.6" y="315" text-anchor="end">0</text>
<text x="71.6" y="344" text-anchor="end">-2</text>
<text x="71.6" y="373" text-anchor="end">-4</text>
<text x="181" y="215.5" text-anchor="middle">Female.No</text>
<text x="180.9" y="231.5" text-anchor="middle">N=173</text>
<text x="309.6" y="215.5" text-anchor="middle">Female.Yes</text>
<text x="309.5" y="231.5" text-anchor="middle" style="font-kerning:none">N=114</text>
<text x="438.2" y="215.5" text-anchor="middle">Male.No</text>
<text x="438.1" y="231.5" text-anchor="middle">N=380</text>
<text x="566.85" y="215.5" text-anchor="middle">Male.Yes</text>
<text x="566.75" y="231.5" text-anchor="middle">N=190</text>
<text x="309.8" y="409.6" text-anchor="middle">Female.Yes</text>
<text x="310.1" y="425.8" text-anchor="middle">minus</text>
<text x="310.1" y="441.8" text-anchor="middle">Female.No</text>
<text x="567.05" y="409.6" text-anchor="middle">Male.Yes</text>
<text x="567.35" y="425.8" text-anchor="middle">minus</text>
<text x="567.35" y="441.8" text-anchor="middle">Male.No</text>
</g>
<g font-size="18.67" fill="#000" text-anchor="middle" style="text-rendering:geometricPrecision">
<text transform="translate(38.2 106.8) rotate(-90)">value</text>
<text transform="translate(27.8 331.8) rotate(-90)" font-size="18.7">Unpaired</text>
<text transform="translate(48.1 331.85) rotate(-90)" font-size="18.75">mean difference</text>
</g>
<path d="M310.1 274.8L310.45 274.8L310.55 276.23L310.67 277.65L310.83 279.08L311.02 280.51L311.25 281.93L311.52 283.36L311.86 284.79L312.26 286.21L312.73 287.64L313.29 289.07L313.94 290.49L314.7 291.92L315.56 293.35L316.55 294.77L317.67 296.2L318.93 297.63L320.33 299.05L321.87 300.48L323.56 301.91L325.4 303.33L327.37 304.76L329.47 306.18L331.7 307.61L334.02 309.04L336.42 310.46L338.87 311.89L341.36 313.32L343.84 314.74L346.29 316.17L348.66 317.6L350.93 319.02L353.05 320.45L355 321.88L356.73 323.3L358.22 324.73L359.44 326.16L360.37 327.58L360.98 329.01L361.27 330.44L361.24 331.86L360.88 333.29L360.2 334.72L359.21 336.14L357.93 337.57L356.39 339L354.61 340.42L352.62 341.85L350.46 343.28L348.17 344.7L345.78 346.13L343.32 347.56L340.84 348.98L338.35 350.41L335.91 351.84L333.52 353.26L331.22 354.69L329.02 356.12L326.94 357.54L325 358.97L323.19 360.39L321.53 361.82L320.02 363.25L318.65 364.67L317.43 366.1L316.33 367.53L315.37 368.95L314.53 370.38L313.8 371.81L313.17 373.23L312.63 374.66L312.17 376.09L311.78 377.51L311.46 378.94L311.19 380.37L310.97 381.79L310.79 383.22L310.65 384.65L310.53 386.07L310.43 387.5L310.1 387.5Z" fill="#B4CF82"/>
<path d="M567.4 277.2L567.75 277.2L567.85 278.3L567.97 279.39L568.12 280.49L568.31 281.58L568.54 282.68L568.82 283.78L569.15 284.87L569.55 285.97L570.02 287.07L570.58 288.16L571.22 289.26L571.98 290.35L572.84 291.45L573.82 292.55L574.94 293.64L576.19 294.74L577.59 295.84L579.13 296.93L580.81 298.03L582.65 299.12L584.62 300.22L586.72 301.32L588.94 302.41L591.27 303.51L593.67 304.61L596.14 305.7L598.63 306.8L601.12 307.89L603.59 308.99L605.98 310.09L608.27 311.18L610.41 312.28L612.39 313.37L614.15 314.47L615.67 315.57L616.92 316.66L617.88 317.76L618.53 318.86L618.86 319.95L618.86 321.05L618.53 322.14L617.88 323.24L616.92 324.34L615.67 325.43L614.15 326.53L612.39 327.63L610.41 328.72L608.27 329.82L605.98 330.91L603.59 332.01L601.12 333.11L598.63 334.2L596.14 335.3L593.67 336.39L591.27 337.49L588.94 338.59L586.72 339.68L584.62 340.78L582.65 341.88L580.81 342.97L579.13 344.07L577.59 345.16L576.19 346.26L574.94 347.36L573.82 348.45L572.84 349.55L571.98 350.65L571.22 351.74L570.58 352.84L570.02 353.93L569.55 355.03L569.15 356.13L568.82 357.22L568.54 358.32L568.31 359.42L568.12 360.51L567.97 361.61L567.85 362.7L567.75 363.8L567.4 363.8Z" fill="#DBADFF"/>
<line x1="310.15" y1="296" x2="310.15" y2="366.5" stroke="#000" stroke-width="1.42"/>
<circle cx="310.15" cy="331.2" r="4" fill="#000"/>
<line x1="567.4" y1="293.1" x2="567.4" y2="347.5" stroke="#000" stroke-width="1.42"/>
<circle cx="567.4" cy="320.5" r="4" fill="#000"/>
</svg></body></html>
